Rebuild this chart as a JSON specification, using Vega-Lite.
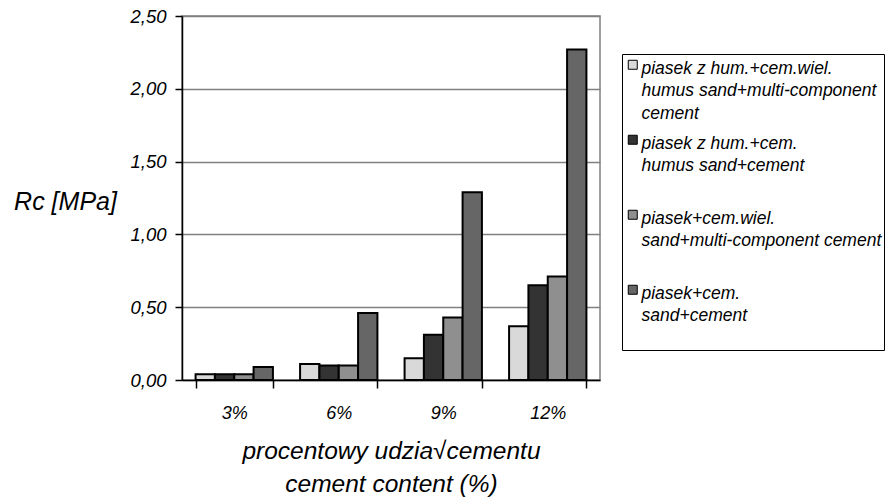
{
  "$schema": "https://vega.github.io/schema/vega-lite/v6.json",
  "width": 418,
  "height": 364,
  "autosize": {"type": "none"},
  "padding": {"left": 182, "top": 16, "right": 293, "bottom": 121},
  "background": "white",
  "config": {
    "font": "Liberation Sans",
    "view": {"stroke": "#808080", "strokeWidth": 1.5}
  },
  "data": {
    "values": [
      {"cement": "3%", "series": "piasek z hum.+cem.wiel.\nhumus sand+multi-component\ncement", "rc": 0.04},
      {"cement": "3%", "series": "piasek z hum.+cem.\nhumus sand+cement", "rc": 0.04},
      {"cement": "3%", "series": "piasek+cem.wiel.\nsand+multi-component cement", "rc": 0.04},
      {"cement": "3%", "series": "piasek+cem.\nsand+cement", "rc": 0.09},
      {"cement": "6%", "series": "piasek z hum.+cem.wiel.\nhumus sand+multi-component\ncement", "rc": 0.11},
      {"cement": "6%", "series": "piasek z hum.+cem.\nhumus sand+cement", "rc": 0.10},
      {"cement": "6%", "series": "piasek+cem.wiel.\nsand+multi-component cement", "rc": 0.10},
      {"cement": "6%", "series": "piasek+cem.\nsand+cement", "rc": 0.46},
      {"cement": "9%", "series": "piasek z hum.+cem.wiel.\nhumus sand+multi-component\ncement", "rc": 0.15},
      {"cement": "9%", "series": "piasek z hum.+cem.\nhumus sand+cement", "rc": 0.31},
      {"cement": "9%", "series": "piasek+cem.wiel.\nsand+multi-component cement", "rc": 0.43},
      {"cement": "9%", "series": "piasek+cem.\nsand+cement", "rc": 1.29},
      {"cement": "12%", "series": "piasek z hum.+cem.wiel.\nhumus sand+multi-component\ncement", "rc": 0.37},
      {"cement": "12%", "series": "piasek z hum.+cem.\nhumus sand+cement", "rc": 0.65},
      {"cement": "12%", "series": "piasek+cem.wiel.\nsand+multi-component cement", "rc": 0.71},
      {"cement": "12%", "series": "piasek+cem.\nsand+cement", "rc": 2.27}
    ]
  },
  "mark": {"type": "bar", "stroke": "black", "strokeWidth": 2},
  "encoding": {
    "x": {
      "field": "cement",
      "type": "nominal",
      "sort": ["3%", "6%", "9%", "12%"],
      "scale": {"paddingInner": 0.26, "paddingOuter": 0.13},
      "axis": {
        "labelAngle": 0,
        "tickBand": "extent",
        "tickSize": 8,
        "tickColor": "black",
        "tickWidth": 1.5,
        "domainColor": "black",
        "domainWidth": 1.5,
        "labelFont": "Liberation Sans",
        "labelFontSize": 18,
        "labelFontStyle": "italic",
        "labelColor": "black",
        "labelPadding": 16,
        "title": ["procentowy udzia√cementu", "cement content (%)"],
        "titleFont": "Liberation Sans",
        "titleFontSize": 24.5,
        "titleFontStyle": "italic",
        "titleFontWeight": "normal",
        "titleColor": "black",
        "titleLineHeight": 33,
        "titleBaseline": "top",
        "titleY": 59
      }
    },
    "xOffset": {
      "field": "series",
      "type": "nominal",
      "sort": [
        "piasek z hum.+cem.wiel.\nhumus sand+multi-component\ncement",
        "piasek z hum.+cem.\nhumus sand+cement",
        "piasek+cem.wiel.\nsand+multi-component cement",
        "piasek+cem.\nsand+cement"
      ],
      "scale": {"paddingInner": 0, "paddingOuter": 0}
    },
    "y": {
      "field": "rc",
      "type": "quantitative",
      "scale": {"domain": [0, 2.5]},
      "axis": {
        "values": [0, 0.5, 1, 1.5, 2, 2.5],
        "labelExpr": "replace(format(datum.value, '.2f'), '.', ',')",
        "grid": true,
        "gridColor": "#808080",
        "gridWidth": 1.5,
        "domainColor": "black",
        "domainWidth": 1.5,
        "tickColor": "black",
        "tickWidth": 1.5,
        "tickSize": 7,
        "labelFont": "Liberation Sans",
        "labelFontSize": 18.5,
        "labelFontStyle": "italic",
        "labelColor": "black",
        "labelPadding": 9,
        "title": "Rc [MPa]",
        "titleFont": "Liberation Sans",
        "titleFontSize": 25,
        "titleFontStyle": "italic",
        "titleFontWeight": "normal",
        "titleColor": "black",
        "titleAngle": 0,
        "titleAlign": "center",
        "titleBaseline": "middle",
        "titleX": -117,
        "titleY": 185
      }
    },
    "fill": {
      "field": "series",
      "type": "nominal",
      "sort": [
        "piasek z hum.+cem.wiel.\nhumus sand+multi-component\ncement",
        "piasek z hum.+cem.\nhumus sand+cement",
        "piasek+cem.wiel.\nsand+multi-component cement",
        "piasek+cem.\nsand+cement"
      ],
      "scale": {"range": ["#d9d9d9", "#333333", "#8f8f8f", "#666666"]},
      "legend": {
        "orient": "none",
        "legendX": 440,
        "legendY": 38,
        "title": null,
        "strokeColor": "black",
        "padding": 2,
        "symbolType": "square",
        "symbolSize": 81,
        "symbolStrokeColor": "black",
        "symbolStrokeWidth": 1,
        "symbolOffset": 0,
        "labelOffset": 0,
        "labelFont": "Liberation Sans",
        "labelFontSize": 17.5,
        "labelFontStyle": "italic",
        "labelColor": "black",
        "labelLimit": 500,
        "labelBaseline": "top",
        "rowPadding": 8,
        "labelExpr": "datum.index == 0 ? split(datum.label, '\\n') : split(datum.label + '\\n ', '\\n')",
        "encode": {
          "labels": {"update": {"dy": {"value": -5}, "lineHeight": {"value": 22.5}}}
        }
      }
    }
  }
}
